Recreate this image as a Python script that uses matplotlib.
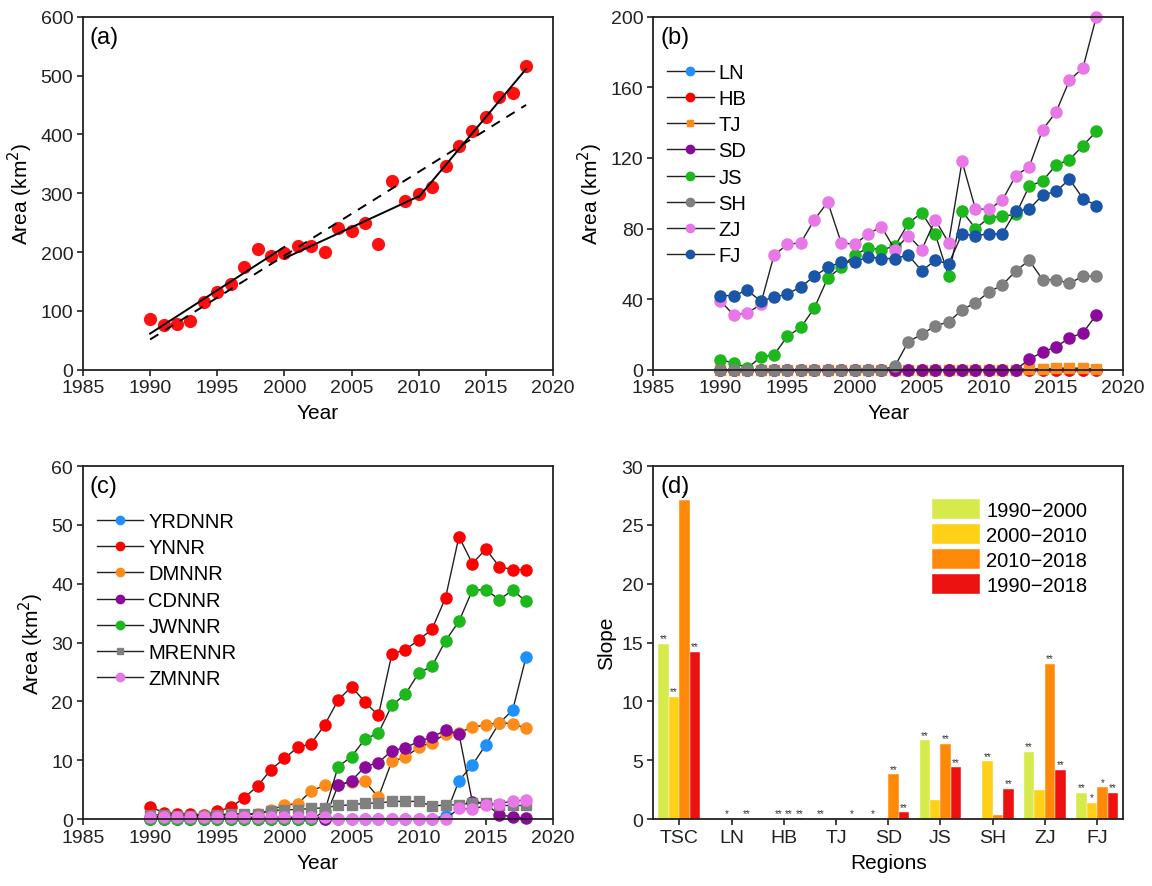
import numpy as np
import matplotlib
matplotlib.use("Agg")
import matplotlib.pyplot as plt

plt.rcParams['font.family'] = ['Liberation Sans', 'DejaVu Sans']

years = np.arange(1990, 2019)

# (a) total area
tsc_area = [86, 76, 78, 83, 116, 132, 145, 174, 205, 193, 198, 211, 211, 201, 241,
            235, 249, 213, 320, 286, 298, 310, 346, 381, 406, 430, 463, 470, 516]

# (b) provinces
prov_names = ["LN", "HB", "TJ", "SD", "JS", "SH", "ZJ", "FJ"]
ln = [0] * 29
hb = [0] * 29
tj = [0] * 23 + [0.5, 0.5, 0.8, 1.0, 0.8, 0.5]
sd = [0] * 23 + [6, 10, 13, 18, 21, 31]
js = [5.5, 4, 1, 7, 8.5, 19, 24, 35, 52, 58, 65, 69, 68, 70, 83, 89, 77, 53, 90, 80,
      86, 87, 88, 104, 107, 116, 119, 127, 135]
sh = [0] * 13 + [2, 16, 20, 25, 27, 34, 38, 44, 48, 56, 62, 51, 51, 49, 53, 53]
zj = [39, 31, 32, 37, 65, 71, 72, 85, 95, 72, 71, 77, 81, 68, 76, 68, 85, 72, 118, 91,
      91, 96, 110, 115, 136, 146, 164, 171, 200]
fj = [42, 42, 45, 39, 41, 43, 47, 53, 58, 61, 61, 64, 63, 63, 65, 56, 62, 60, 77, 76,
      77, 77, 90, 91, 99, 101, 108, 97, 93]
prov_data = [ln, hb, tj, sd, js, sh, zj, fj]
prov_colors = ["#1e90ff", "#ff0000", "#ff8c1a", "#8b0a9b", "#1cb81c", "#808080", "#e878e8", "#1a56a8"]
prov_markers = ["o", "o", "s", "o", "o", "o", "o", "o"]

# (c) reserves
res_names = ["YRDNNR", "YNNR", "DMNNR", "CDNNR", "JWNNR", "MRENNR", "ZMNNR"]
yrdnnr = [0] * 22 + [0.6, 6.5, 9.2, 12.6, 16.3, 18.5, 27.6]
ynnr = [2.1, 1.1, 0.9, 0.9, 0.7, 1.3, 2.0, 3.6, 5.6, 8.4, 10.3, 12.2, 12.8, 16.0, 20.2,
        22.5, 19.9, 17.6, 28.0, 28.8, 30.4, 32.3, 37.6, 48.0, 43.4, 45.9, 42.9, 42.4, 42.4]
dmnnr = [0.4, 0.4, 0.4, 0.4, 0.5, 0.5, 0.6, 0.7, 0.9, 1.5, 2.4, 2.6, 4.8, 5.7, 5.8,
         6.3, 6.4, 3.7, 9.8, 10.5, 12.2, 13.0, 14.5, 14.7, 15.6, 16.0, 16.4, 16.2, 15.4]
cdnnr = [0] * 14 + [5.7, 6.5, 8.9, 9.6, 11.6, 12.1, 13.2, 13.9, 15.1, 14.5, 2.9, 2.6, 0.7, 0.4, 0.1]
jwnnr = [0] * 13 + [1.3, 8.9, 10.6, 13.6, 14.6, 19.3, 21.2, 24.8, 26.0, 30.3, 33.6, 38.9,
                    39.0, 37.3, 38.9, 37.0]
mrennr = [0.7, 0.7, 0.6, 0.6, 0.6, 0.7, 0.9, 0.9, 0.9, 1.4, 1.6, 1.6, 1.8, 1.9, 2.3,
          2.4, 2.7, 2.7, 3.0, 3.0, 3.0, 2.2, 2.4, 2.4, 2.8, 2.8, 2.3, 2.3, 2.3]
zmnnr = [0.3] * 14 + [0] * 9 + [1.8, 1.7, 2.3, 2.6, 3.1, 3.2]
res_data = [yrdnnr, ynnr, dmnnr, cdnnr, jwnnr, mrennr, zmnnr]
res_colors = ["#1e90ff", "#ff0000", "#ff8c1a", "#8b0a9b", "#1cb81c", "#808080", "#e878e8"]
res_markers = ["o", "o", "o", "o", "o", "s", "o"]

# (d) slopes
regions = ["TSC", "LN", "HB", "TJ", "SD", "JS", "SH", "ZJ", "FJ"]
periods = ["1990\u22122000", "2000\u22122010", "2010\u22122018", "1990\u22122018"]
slope_90_00 = [14.9, 0.01, 0.02, 0.02, 0.01, 6.7, 0.02, 5.7, 2.2]
slope_00_10 = [10.4, 0.02, 0.05, 0.01, 0.01, 1.6, 4.9, 2.5, 1.4]
slope_10_18 = [27.1, 0.01, 0.05, 0.01, 3.8, 6.4, 0.34, 13.2, 2.7]
slope_90_18 = [14.2, 0.02, 0.05, 0.02, 0.57, 4.4, 2.55, 4.2, 2.2]
signif = [["**", "**", "*", "**"], ["", "*", "", "**"], ["", "**", "**", "**"],
          ["**", "", "", "*"], ["*", "", "**", "**"], ["**", "", "**", "**"],
          ["", "**", "", "**"], ["**", "", "**", "**"], ["**", "*", "*", "**"]]
bar_colors = ["#d6ea4c", "#ffd015", "#ff8a0a", "#ee1111"]

fig = plt.figure(figsize=(11.52, 8.87), dpi=100)
axa = fig.add_axes([0.072, 0.582, 0.408, 0.398])
axb = fig.add_axes([0.567, 0.582, 0.408, 0.398])
axc = fig.add_axes([0.072, 0.0755, 0.408, 0.398])
axd = fig.add_axes([0.567, 0.0755, 0.408, 0.398])

for ax in (axa, axb, axc, axd):
    for s in ax.spines.values():
        s.set_linewidth(1.3)
        s.set_color("#222222")
    ax.tick_params(labelsize=14, direction="out", length=4, width=1.2, colors="#222222", pad=3)

def style_year_axis(ax, ymax, ystep):
    ax.set_xlim(1985, 2020)
    ax.set_xticks(np.arange(1985, 2021, 5))
    ax.set_ylim(0, ymax)
    ax.set_yticks(np.arange(0, ymax + 1, ystep))
    ax.set_xlabel("Year", fontsize=15, labelpad=5)
    ax.set_ylabel("Area (km$^2$)", fontsize=15, labelpad=4)

leg_kw = dict(loc="upper left", bbox_to_anchor=(0.0, 0.91), frameon=False, fontsize=14.5,
              handlelength=2.3, labelspacing=0.36, handletextpad=0.25, borderaxespad=0.3,
              markerscale=0.75)

# (a)
yr = np.array(years)
area = np.array(tsc_area, dtype=float)
axa.plot(yr, area, "o", color="#ff1010", markersize=9.5, markeredgewidth=0, zorder=2)
for y0, y1 in [(1990, 2000), (2000, 2010), (2010, 2018)]:
    m = (yr >= y0) & (yr <= y1)
    k, b = np.polyfit(yr[m], area[m], 1)
    xs = np.array([y0, y1])
    axa.plot(xs, k * xs + b, color="black", lw=1.4, zorder=3)
k, b = np.polyfit(yr, area, 1)
xs = np.array([1990, 2018])
axa.plot(xs, k * xs + b, color="black", lw=1.4, ls=(0, (5, 4)), zorder=3)
style_year_axis(axa, 600, 100)
axa.text(0.015, 0.975, "(a)", transform=axa.transAxes, fontsize=17, va="top")

# (b)
for name, vals, c, mk in zip(prov_names, prov_data, prov_colors, prov_markers):
    ms = 6.5 if mk == "s" else 8
    axb.plot(years, vals, color="#222222", lw=1.0, marker=mk, markersize=ms,
             markerfacecolor=c, markeredgecolor=c, label=name, clip_on=False)
style_year_axis(axb, 200, 40)
axb.text(0.015, 0.975, "(b)", transform=axb.transAxes, fontsize=17, va="top")
axb.legend(**leg_kw)

# (c)
for name, vals, c, mk in zip(res_names, res_data, res_colors, res_markers):
    ms = 6.5 if mk == "s" else 8
    axc.plot(years, vals, color="#222222", lw=1.0, marker=mk, markersize=ms,
             markerfacecolor=c, markeredgecolor=c, label=name, clip_on=False)
style_year_axis(axc, 60, 10)
axc.text(0.015, 0.975, "(c)", transform=axc.transAxes, fontsize=17, va="top")
axc.legend(**leg_kw)

# (d)
pos = np.arange(1, len(regions) + 1)
width = 0.2
series = [slope_90_00, slope_00_10, slope_10_18, slope_90_18]
for i, (vals, c, lab) in enumerate(zip(series, bar_colors, periods)):
    xb = pos + (i - 1.5) * width
    axd.bar(xb, vals, width=width, color=c, edgecolor="white", linewidth=0.3, label=lab)
    for j, v in enumerate(vals):
        if signif[j][i]:
            axd.text(xb[j], v + 0.05, signif[j][i], ha="center", va="bottom",
                     fontsize=7, color="#333333")
axd.set_xlim(0.5, len(regions) + 0.5)
axd.set_xticks(pos)
axd.set_xticklabels(regions)
axd.set_ylim(0, 30)
axd.set_yticks(np.arange(0, 31, 5))
axd.set_xlabel("Regions", fontsize=15, labelpad=5)
axd.set_ylabel("Slope", fontsize=15, labelpad=4)
axd.text(0.015, 0.975, "(d)", transform=axd.transAxes, fontsize=17, va="top")
axd.legend(loc="upper right", bbox_to_anchor=(0.95, 0.94), frameon=False, fontsize=14.5,
           handlelength=2.4, handleheight=1.15, labelspacing=0.2, handletextpad=0.3,
           borderaxespad=0.2)

fig.savefig("out.png", dpi=100)
